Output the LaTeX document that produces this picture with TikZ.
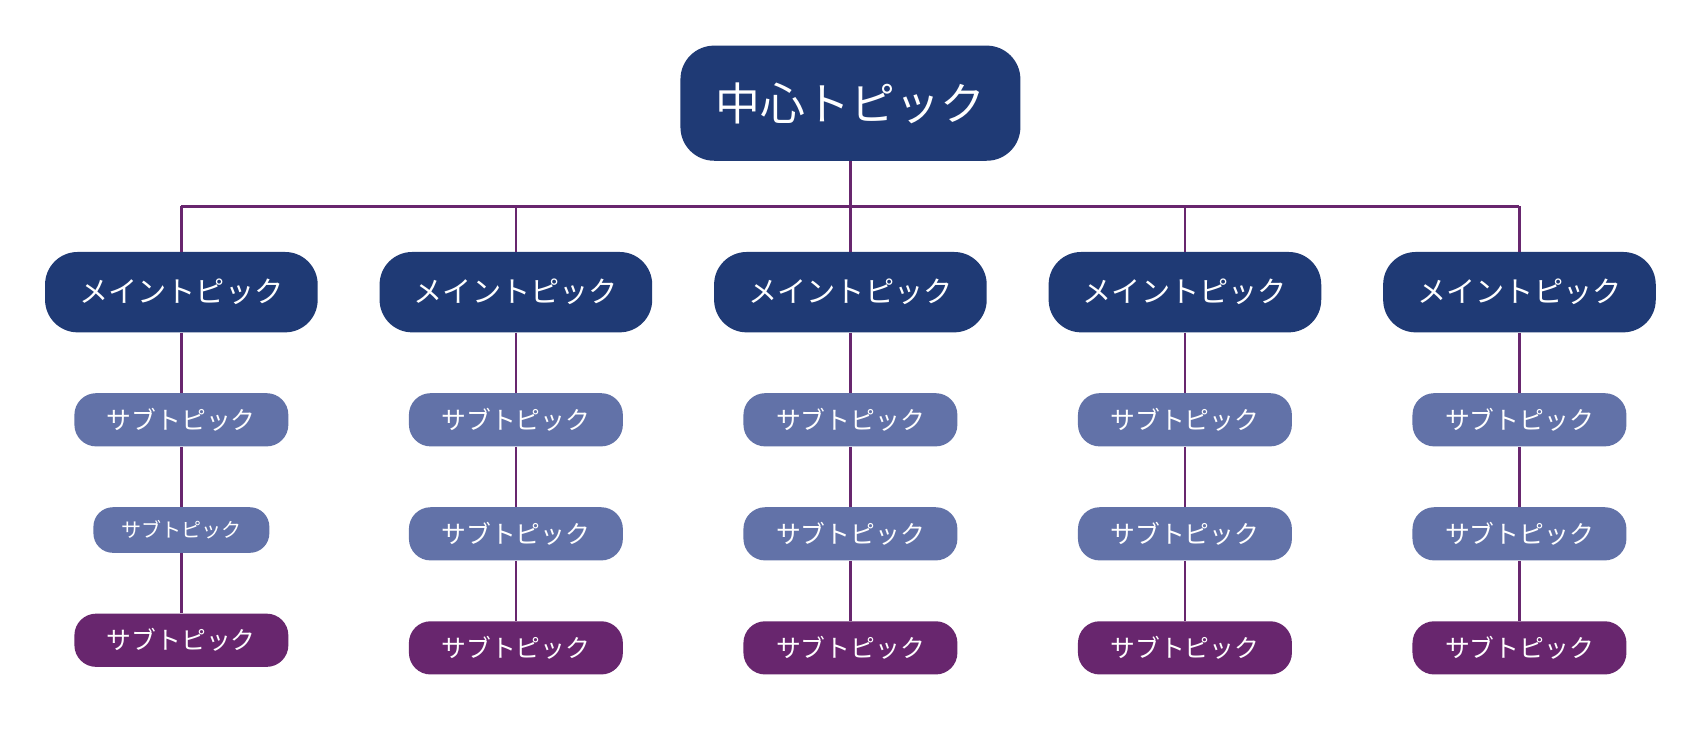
\documentclass[tikz,border=0pt]{standalone}
\usepackage{fontspec}
\newfontfamily\jp{Noto Sans CJK JP}
\definecolor{navy}{HTML}{1F3A75}
\definecolor{sub}{HTML}{6272A8}
\definecolor{purp}{HTML}{68266E}
\begin{document}
\begin{tikzpicture}[x=0.02cm,y=-0.02cm,
  box/.style={rounded corners=#1, text=white, inner sep=0pt, font=\jp},
  link/.style={purp, line width=1.4pt}]
\useasboundingbox (0,0) rectangle (1568,677);
\fill[white] (0,0) rectangle (1568,677);
\node[box=0.62cm, fill=navy, minimum width=313*0.02cm, minimum height=106*0.02cm, font=\jp\fontsize{23.5}{26}\selectfont] (c) at (783,95) {中心トピック};
\coordinate (busL) at (167,190);
\coordinate (busR) at (1399,190);
\foreach \i/\x in {1/167,2/475,3/783,4/1091,5/1399}{
  \node[box=0.6cm, fill=navy, minimum width=251*0.02cm, minimum height=74*0.02cm, font=\jp\fontsize{15.3}{17}\selectfont] (m\i) at (\x,269) {メイントピック};
}
\foreach \i/\x in {2/475,3/783,4/1091,5/1399}{
  \node[box=0.4cm, fill=sub, minimum width=197*0.02cm, minimum height=49*0.02cm, font=\jp\fontsize{13}{15}\selectfont] (a\i) at (\x,386.5) {サブトピック};
  \node[box=0.4cm, fill=sub, minimum width=197*0.02cm, minimum height=49*0.02cm, font=\jp\fontsize{13}{15}\selectfont] (b\i) at (\x,491.5) {サブトピック};
  \node[box=0.4cm, fill=purp, minimum width=197*0.02cm, minimum height=49*0.02cm, font=\jp\fontsize{13}{15}\selectfont] (d\i) at (\x,596.5) {サブトピック};
}
\node[box=0.4cm, fill=sub, minimum width=197*0.02cm, minimum height=49*0.02cm, font=\jp\fontsize{13}{15}\selectfont] (a1) at (167,386.5) {サブトピック};
\node[box=0.36cm, fill=sub, minimum width=162*0.02cm, minimum height=42*0.02cm, font=\jp\fontsize{10.5}{12}\selectfont] (b1) at (167,488) {サブトピック};
\node[box=0.4cm, fill=purp, minimum width=197*0.02cm, minimum height=49*0.02cm, font=\jp\fontsize{13}{15}\selectfont] (d1) at (167,589.5) {サブトピック};
\draw[link] (c.south) -- (783,190);
\draw[link] (busL) -- (busR);
\foreach \i in {1,...,5}{
  \draw[link] (m\i.north) -- (m\i.north |- busL);
  \draw[link] (m\i) -- (a\i);
  \draw[link] (a\i) -- (b\i);
  \draw[link] (b\i) -- (d\i);
}
\end{tikzpicture}
\end{document}
